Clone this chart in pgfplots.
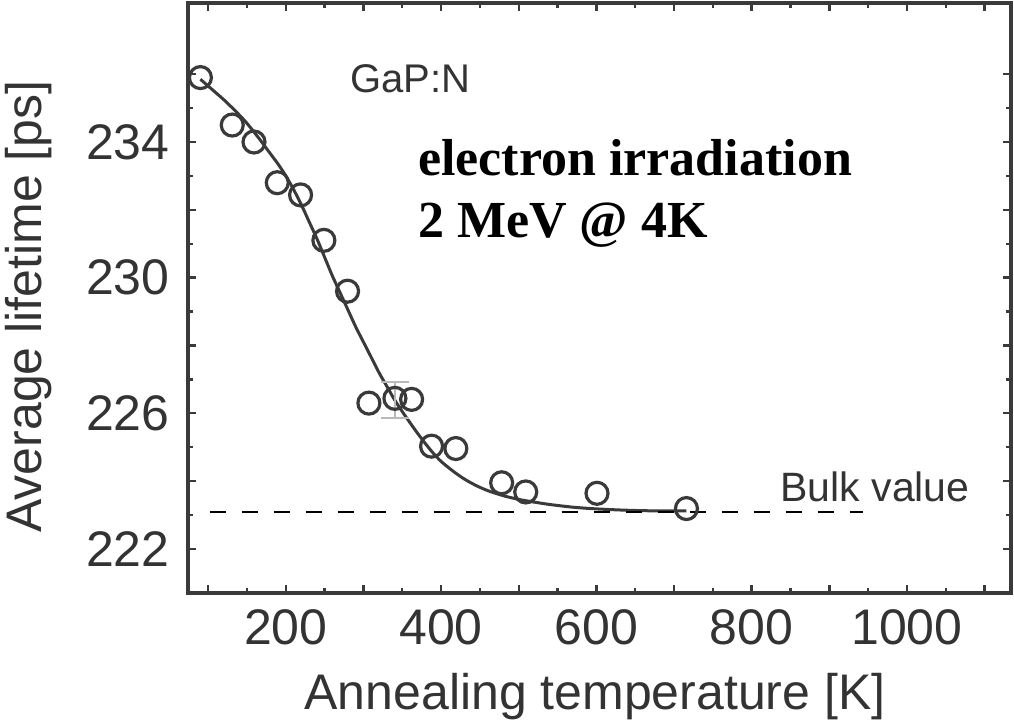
\documentclass[border=0pt]{standalone}
\usepackage{pgfplots}
\pgfplotsset{compat=1.18}
\usepackage{fontspec}
\setmainfont{Liberation Sans}
\newfontfamily\serifbf{Liberation Serif}
\definecolor{axgray}{HTML}{3A3A3A}
\definecolor{txtgray}{HTML}{333333}
\begin{document}
\begin{tikzpicture}
\begin{axis}[
 at={(0pt,0pt)}, anchor=south west,
 scale only axis, width=411.5pt, height=295pt,
 xmin=74, xmax=1134, ymin=220.7, ymax=238.1,
 xtick={100,200,...,1100},
 xticklabels={,200,,400,,600,,800,,1000,},
 minor x tick num=1,
 ytick={222,224,...,236},
 yticklabels={222,,226,,230,,234,},
 minor y tick num=1,
 major tick length=4pt, minor tick length=2.5pt,
 tick style={axgray, line width=1.2pt},
 axis line style={axgray, line width=1.6pt},
 tick align=inside,
 /pgf/number format/assume math mode=true,
 ticklabel style={font=\fontsize{25}{30}\selectfont, text=txtgray},
 xticklabel style={anchor=base, yshift=-26pt, inner sep=0pt},
 yticklabel style={anchor=east, xshift=-9pt, inner sep=0pt},
 xlabel={Annealing temperature [K]},
 ylabel={Average lifetime [ps]},
 label style={font=\fontsize{25}{30}\selectfont, text=txtgray},
 xlabel style={at={(axis description cs:0.4945,0)}, anchor=base, yshift=-58.5pt, inner sep=0pt},
 ylabel style={at={(axis description cs:-0.1774,0.4856)}, anchor=base, inner sep=0pt},
 clip=false,
]
% fitted curve
\addplot[axgray, line width=1.5pt, smooth] coordinates {
(90,235.85)(100,235.65)(110,235.45)(120,235.25)(130,235.03)(140,234.8)(150,234.55)(165,234.12)(177,233.75)(190,233.35)(200,233.0)(210,232.6)(220,232.15)(230,231.65)(240,231.15)(250,230.6)(260,230.05)(270,229.55)(280,229.05)(290,228.55)(300,228.1)(310,227.65)(320,227.2)(330,226.8)(340,226.4)(350,226.05)(360,225.72)(370,225.4)(380,225.1)(390,224.82)(400,224.58)(415,224.3)(430,224.06)(445,223.87)(460,223.72)(480,223.57)(500,223.46)(520,223.38)(540,223.31)(570,223.23)(600,223.18)(640,223.14)(680,223.12)(716,223.12)
};
% error bar on one point
\addplot[draw=none, mark=none, error bars/.cd, y dir=both, y explicit,
  error bar style={line width=1pt, gray!55},
  error mark options={rotate=90, mark size=7pt, line width=1pt, gray!55}]
  coordinates {(340.5,226.4) +- (0,0.53)};
% data points
\addplot[only marks, mark=o, mark size=5.5pt, axgray, mark options={line width=1.6pt}] coordinates {
(90,235.9)(131,234.5)(159,234.0)(189,232.8)(219,232.44)(249,231.1)(279.5,229.6)(307,226.3)(340.5,226.44)(362,226.41)(387.7,225.03)(419,224.96)(478,223.95)(509,223.68)(600.8,223.64)(716,223.19)
};
% bulk value
\addplot[black, line width=1.1pt, dash pattern=on 8pt off 8pt] coordinates {(102,223.08)(943,223.08)};
\node[anchor=base west, font=\fontsize{20}{24}\selectfont, text=txtgray, inner sep=0pt] at (axis cs:282.5,235.45) {GaP:N};
\node[anchor=base west, font=\serifbf\bfseries\fontsize{26}{30}\selectfont, inner sep=0pt] at (axis cs:370,233.0) {electron irradiation};
\node[anchor=base west, font=\serifbf\bfseries\fontsize{26}{30}\selectfont, inner sep=0pt] at (axis cs:370,231.17) {2 MeV @ 4K};
\node[anchor=base west, font=\fontsize{20.5}{24}\selectfont, text=txtgray, inner sep=0pt] at (axis cs:836.6,223.39) {Bulk value};
\end{axis}
\pgfresetboundingbox
\path[use as bounding box] (-94pt,-64pt) rectangle (413pt,296.5pt);
\end{tikzpicture}
\end{document}
